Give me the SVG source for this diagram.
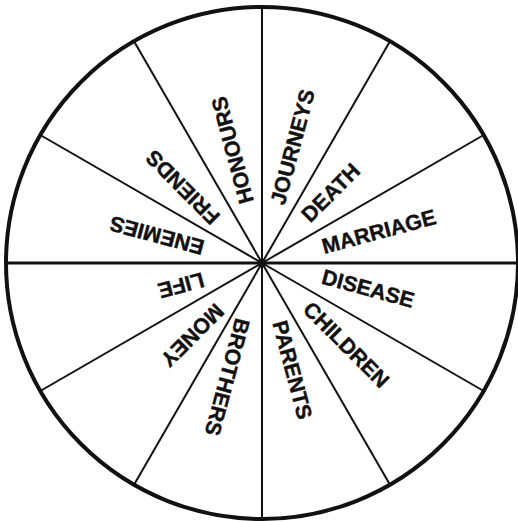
<svg xmlns="http://www.w3.org/2000/svg" width="518" height="522" viewBox="0 0 518 522">
<style>
.lbl{font-family:"Liberation Sans",Arial,sans-serif;font-weight:bold;font-size:21.5px;fill:#111;stroke:#111;stroke-width:0.4;text-anchor:middle;dominant-baseline:central}
.spoke{stroke:#111;stroke-width:2;fill:none}
.hz{stroke-width:3}
</style>
<rect width="518" height="522" fill="#fff"/>
<g id="wheel">
<circle cx="262" cy="263" r="256" fill="none" stroke="#111" stroke-width="4"/>
</g>
<g id="connectors">
<line class="spoke" x1="262" y1="263" x2="262" y2="7"/>
<line class="spoke" x1="262" y1="263" x2="390" y2="41.3"/>
<line class="spoke" x1="262" y1="263" x2="483.7" y2="135"/>
<line class="spoke hz" x1="262" y1="263" x2="518" y2="263"/>
<line class="spoke" x1="262" y1="263" x2="483.7" y2="391"/>
<line class="spoke" x1="262" y1="263" x2="390" y2="484.7"/>
<line class="spoke" x1="262" y1="263" x2="262" y2="519"/>
<line class="spoke" x1="262" y1="263" x2="134" y2="484.7"/>
<line class="spoke" x1="262" y1="263" x2="40.3" y2="391"/>
<line class="spoke hz" x1="262" y1="263" x2="6" y2="263"/>
<line class="spoke" x1="262" y1="263" x2="40.3" y2="135"/>
<line class="spoke" x1="262" y1="263" x2="134" y2="41.3"/>
<circle cx="262" cy="263" r="4.5" fill="#111"/>
</g>
<g id="journeys"><text class="lbl" transform="translate(293,147) rotate(-75)">JOURNEYS</text></g>
<g id="death"><text class="lbl" transform="translate(331,193) rotate(-45)">DEATH</text></g>
<g id="marriage"><text class="lbl" transform="translate(379,232) rotate(-15)">MARRIAGE</text></g>
<g id="disease"><text class="lbl" transform="translate(368,289) rotate(15)">DISEASE</text></g>
<g id="children"><text class="lbl" transform="translate(346,345) rotate(45)">CHILDREN</text></g>
<g id="parents"><text class="lbl" transform="translate(292,370) rotate(75)">PARENTS</text></g>
<g id="brothers"><text class="lbl" transform="translate(227,377) rotate(105)">BROTHERS</text></g>
<g id="money"><text class="lbl" transform="translate(192,335) rotate(135)">MONEY</text></g>
<g id="life"><text class="lbl" transform="translate(181,285) rotate(165)">LIFE</text></g>
<g id="enemies"><text class="lbl" transform="translate(157,235) rotate(195)">ENEMIES</text></g>
<g id="friends"><text class="lbl" transform="translate(183,187) rotate(225)">FRIENDS</text></g>
<g id="honours"><text class="lbl" transform="translate(233,150) rotate(255)">HONOURS</text></g>
</svg>
